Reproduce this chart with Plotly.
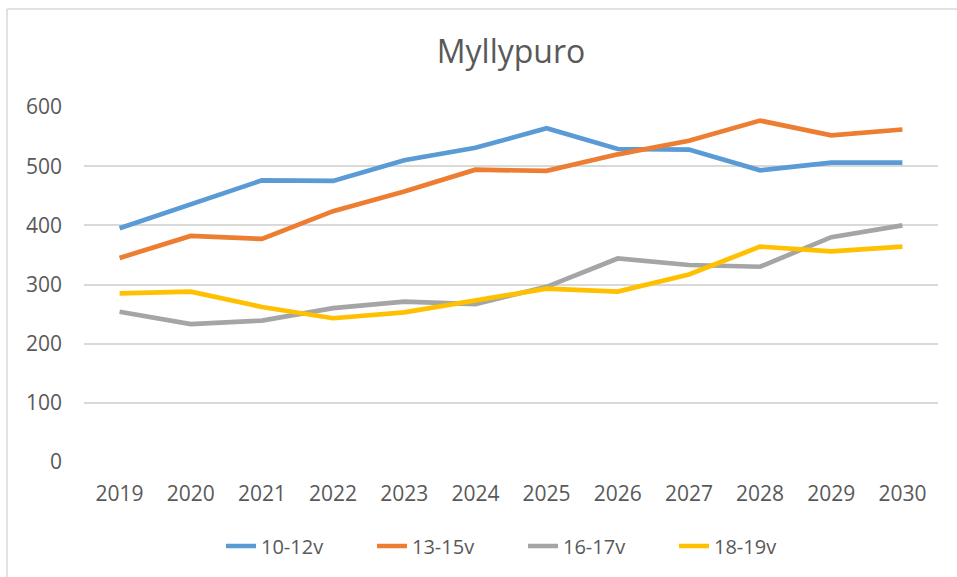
import plotly.graph_objects as go

years = ["2019", "2020", "2021", "2022", "2023", "2024", "2025", "2026", "2027", "2028", "2029", "2030"]
s_10_12 = [395, 436, 476, 475, 510, 531, 564, 529, 528, 493, 506, 506]
s_13_15 = [345, 382, 377, 424, 457, 494, 492, 520, 543, 577, 552, 562]
s_16_17 = [254, 233, 239, 260, 271, 267, 296, 344, 333, 330, 380, 400]
s_18_19 = [285, 288, 262, 243, 253, 274, 293, 288, 317, 364, 356, 364]
series_names = ["10-12v", "13-15v", "16-17v", "18-19v"]
colors = ["#5B9BD5", "#ED7D31", "#A5A5A5", "#FFC000"]

W, H = 957, 577
L, R, T, B = 84, 19, 107, 115
pw, ph = W - L - R, H - T - B

FONT = "Open Sans, Liberation Sans, sans-serif"
TXT = "#595959"

fig = go.Figure()
for name, vals, c in zip(series_names, [s_10_12, s_13_15, s_16_17, s_18_19], colors):
    fig.add_trace(go.Scatter(x=years, y=vals, name=name, mode="lines",
                             line=dict(color=c, width=4.7)))

def px_to_paper_x(px):
    return (px - L) / pw

def px_to_paper_y(py):
    return (H - B - py) / ph

border = "#D9D9D9"
fig.add_shape(type="line", xref="paper", yref="paper",
              x0=px_to_paper_x(7), x1=px_to_paper_x(7),
              y0=px_to_paper_y(9), y1=px_to_paper_y(H + 5),
              line=dict(color=border, width=1.5))
fig.add_shape(type="line", xref="paper", yref="paper",
              x0=px_to_paper_x(7), x1=px_to_paper_x(W + 5),
              y0=px_to_paper_y(9), y1=px_to_paper_y(9),
              line=dict(color=border, width=1.5))

fig.update_layout(
    width=W, height=H,
    margin=dict(l=L, r=R, t=T, b=B),
    paper_bgcolor="white", plot_bgcolor="white",
    font=dict(family=FONT, color=TXT, size=21),
    title=dict(text="Myllypuro", x=0.5, xanchor="center", xref="paper",
               y=1 - 52 / H, yanchor="middle", yref="container",
               font=dict(size=32, color=TXT, family=FONT)),
    xaxis=dict(type="category", range=[-0.5, 11.5], showgrid=False,
               showline=False, zeroline=False, ticks="",
               tickfont=dict(size=21, color=TXT), ticklabelstandoff=17),
    yaxis=dict(range=[0, 600], dtick=100, showgrid=True, gridcolor="#D9D9D9",
               gridwidth=1.5, zeroline=False, showline=False, ticks="",
               tickfont=dict(size=21, color=TXT), ticklabelstandoff=21),
    legend=dict(orientation="h", x=px_to_paper_x(221), xanchor="left", y=px_to_paper_y(546),
                yanchor="middle", entrywidth=106, entrywidthmode="pixels",
                font=dict(size=20, color=TXT), bgcolor="rgba(0,0,0,0)"),
    showlegend=True,
)

fig.write_html("out.html", config={"displayModeBar": False},
               post_script="document.body.style.margin='0px';")
